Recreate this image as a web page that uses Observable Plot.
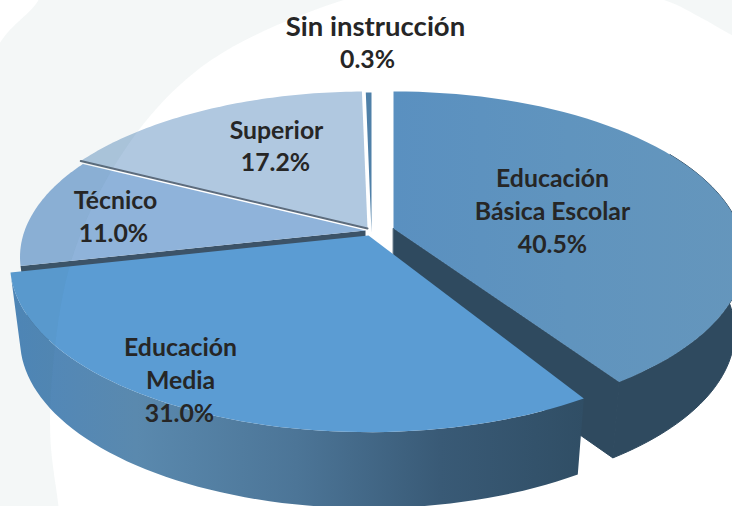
<!DOCTYPE html>
<html><head><meta charset="utf-8">
<script src="https://cdn.jsdelivr.net/npm/d3@7"></script>
<script src="https://cdn.jsdelivr.net/npm/@observablehq/plot@0.6"></script>
<style>html,body{margin:0;padding:0;background:#fff}svg{display:block;overflow:hidden}</style>
</head><body><div id="chart"></div>
<script>
// Data, clockwise from twelve o'clock
const categories = ["Educación\nBásica Escolar", "Educación\nMedia", "Técnico", "Superior", "Sin instrucción"];
const shares = [40.5, 31.0, 11.0, 17.2, 0.3];

// Look
const topColors = ["url(#basicaTop)", "#5b9cd3", "#8fb3da", "#b0c8e0", "#4f80a8"];
const sideDark = "#2f4a5f";
const textColor = "#262626";

// 3D layout
const center = {x: 368, y: 232}, rx = 355, ry = 164, persp = 0.171, depth = 76, bottomShrink = 0.972;
const offsets = [[25, -4], [0, 3], [-3, -2], [-1, -4], [3, 0]];
const radiusK = [0.975, 0.995, 0.96, 0.975, 1];
const startNudge = [0, 2.8, 0, 0, 0]; // degrees, perspective correction on a slice's first edge
const labelFont = [24.8, 24.8, 24.8, 24.8, 27.5];
const labelAt = [[552, 179], [180, 348], [115, 201], [276, 131], [375, 27]];
const pctAt = [[552, 245], [179, 414], [113, 234], [275, 163], [367, 60]];
const lineStep = 33;

const total = d3.sum(shares);
let acc = 0;
const slices = shares.map((v, i) => {
  const a0 = (acc / total * 360 + startNudge[i]) * Math.PI / 180; acc += v;
  return {i, a0, a1: acc / total * 2 * Math.PI, off: offsets[i], k: radiusK[i]};
});
const project = (a, s, r = 1) => {
  const u = Math.sin(a) * r * s.k, v = Math.cos(a) * r * s.k, q = 1 / (1 + persp * v);
  return {x: center.x + s.off[0] + rx * u * q, y: center.y + s.off[1] - ry * v * q};
};
const lower = (p, s) => ({x: center.x + s.off[0] + (p.x - center.x - s.off[0]) * bottomShrink, y: p.y + depth});
const arc = (s, a0, a1) => d3.range(0, 61).map(j => project(a0 + (a1 - a0) * j / 60, s));
const topFace = s => [project(0, s, 0), ...arc(s, s.a0, s.a1)];
const wall = (s, a0, a1) => { const r = arc(s, a0, a1); return [...r, ...r.map(p => lower(p, s)).reverse()]; };
const cut = (s, a) => { const o = project(0, s, 0), e = project(a, s); return [o, e, lower(e, s), lower(o, s)]; };
const poly = (pts, fill, extra = {}) => Plot.line(pts, {x: "x", y: "y", fill, stroke: "none", curve: "linear-closed", ...extra});

const [basica, media, tecnico, superior, sinInstr] = slices;

// faint backdrop outside the large white swoosh
const swoosh = [[40,-5],[-8,58],[-10,530],[60,530],[58,506],[50,440],[52,370],[68,270],[100,190],[150,115],[210,60],[300,15],[400,-14],[560,-20],[665,0],[700,17],[732,35],[760,50],[770,-45],[40,-45]].map(([x, y]) => ({x, y}));

const defs = () => {
  const d = d3.create("svg:defs");
  const grad = (id, stops) => {
    const g = d.append("linearGradient").attr("id", id).attr("x1", 0).attr("x2", 1).attr("y1", 0).attr("y2", 0);
    stops.forEach(([o, c]) => g.append("stop").attr("offset", o).attr("stop-color", c));
  };
  grad("mediaSide", [[0, "#4f87bb"], [0.22, "#5a89ae"], [0.5, "#4c7597"], [0.75, "#395a76"], [1, "#304e65"]]);
  grad("basicaTop", [[0, "#5a90c0"], [0.5, "#6094be"], [1, "#6596bc"]]);
  return d.node();
};

const nameRows = categories.map((c, i) => ({text: c, x: labelAt[i][0], y: labelAt[i][1], size: labelFont[i]}));
const lineRows = nameRows.flatMap(r => r.text.split("\n").map((t, j) => ({...r, text: t, y: r.y + j * lineStep})));
const pctRows = shares.map((v, i) => ({text: `${v.toFixed(1)}%`, x: pctAt[i][0], y: pctAt[i][1], size: labelFont[0]}));

const chart = Plot.plot({
  width: 732, height: 506, margin: 0,
  x: {axis: null, domain: [0, 732], range: [0, 732]},
  y: {axis: null, domain: [0, 506], range: [0, 506]},
  marks: [
    defs,
    poly(wall(basica, Math.PI / 3, basica.a1), sideDark, {stroke: sideDark, strokeWidth: 1}),
    poly(cut(basica, basica.a1), sideDark, {stroke: sideDark, strokeWidth: 1}),
    poly(topFace(basica), topColors[0]),
    poly(cut(tecnico, tecnico.a0), "#3c5368"),
    poly(topFace(tecnico), topColors[2]),
    poly(topFace(superior), topColors[3]),
    Plot.line([project(0, superior, 0), project(superior.a0, superior)], {x: "x", y: "y", stroke: "#5d6c7d", strokeWidth: 2}),
    poly(topFace(sinInstr), topColors[4]),
    poly(wall(media, media.a0, media.a1), "url(#mediaSide)"),
    poly(topFace(media), topColors[1]),
    poly(swoosh, "#3f6b6b", {curve: "catmull-rom-closed", fillOpacity: 0.055}),
    ...[lineRows, pctRows].map(rows => Plot.text(rows.filter(r => r.size === labelFont[0]), {x: "x", y: "y", text: "text", fill: textColor, fontFamily: "Lato", fontWeight: 700, fontSize: labelFont[0], lineAnchor: "middle", textAnchor: "middle"})),
    Plot.text(lineRows.filter(r => r.size !== labelFont[0]), {x: "x", y: "y", text: "text", fill: textColor, fontFamily: "Lato", fontWeight: 700, fontSize: labelFont[4], lineAnchor: "middle", textAnchor: "middle"})
  ]
});
document.getElementById("chart").append(chart);
</script>
</body></html>
